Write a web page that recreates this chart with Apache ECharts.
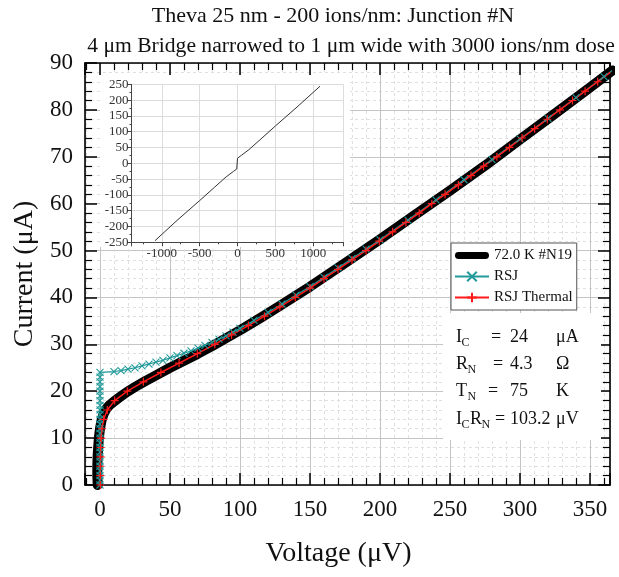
<!DOCTYPE html>
<html>
<head>
<meta charset="utf-8">
<script src="https://cdn.jsdelivr.net/npm/echarts@6/dist/echarts.min.js"></script>
<style>
  html, body { margin: 0; padding: 0; background: #fff; }
  #chart { width: 619px; height: 577px; }
</style>
</head>
<body>
<div id="chart"></div>
<script>
const FONT = '"Liberation Serif", "Times New Roman", serif';

// Measured I-V curve at 72.0 K, junction #N19 (voltage in µV, current in µA)
const measV = [-1.6, -1.9, -1.9, -1.7, -1.3, -0.8, 0, 1.2, 2.8, 4.6, 7, 10, 14, 19, 25, 32, 40, 50, 60, 70, 80, 90, 100, 115, 130, 150, 175, 200, 225, 250, 275, 300, 325, 350, 366];
const measI = [0, 2, 4, 6, 8, 10, 12, 13.9, 15.3, 16.3, 17.1, 17.8, 18.7, 19.8, 20.9, 22.1, 23.4, 25, 26.5, 28, 29.6, 31.3, 33, 35.7, 38.5, 42.3, 47.3, 52.4, 57.6, 62.8, 68.1, 73.7, 79.2, 84.8, 88.4];

// RSJ fit
const rsjV = [0, 0, 0, 0, 0, 0, 0, 0, 0, 0, 0, 0, 0, 0, 0, 0, 0, 0, 0, 0, 0, 0, 0, 0, 0,
  10, 15, 20, 25, 30, 35, 40, 45, 50, 55, 60, 65, 70, 75, 80, 85, 90, 95, 100,
  110, 120, 130, 140, 150, 160, 170, 180, 190, 200, 220, 240, 260, 280, 300, 320, 340, 360, 366];
const rsjI = [0, 1, 2, 3, 4, 5, 6, 7, 8, 9, 10, 11, 12, 13, 14, 15, 16, 17, 18, 19, 20, 21, 22, 23, 24,
  24.2, 24.4, 24.7, 25.0, 25.4, 25.8, 26.2, 26.6, 27.1, 27.6, 28.1, 28.6, 29.2, 29.8, 30.4, 31.1, 31.8, 32.6, 33.4,
  35.1, 36.8, 38.6, 40.5, 42.3, 44.3, 46.3, 48.3, 50.3, 52.3, 56.5, 60.8, 65.1, 69.4, 73.8, 78.2, 82.6, 87.1, 88.4];

// RSJ fit including thermal noise rounding
const thermV = [0.3, 0.3, 0.3, 0.4, 0.5, 0.8, 1.4, 2.6, 5.2, 10.5, 19.5, 31, 43.5, 56.5, 69.5, 82, 94, 106, 117.5, 128.5, 139.5, 150, 160, 170, 180, 190, 199.5, 209, 218.5, 228, 237, 246.5, 256, 265, 274, 283.5, 292.5, 301.5, 310.5, 319.5, 328.5, 337.5, 346.5, 355.5, 364.5];
const thermI = [0, 2, 4, 6, 8, 10, 12, 14, 16, 18, 20, 22, 24, 26, 28, 30, 32, 34, 36, 38, 40, 42, 44, 46, 48, 50, 52, 54, 56, 58, 60, 62, 64, 66, 68, 70, 72, 74, 76, 78, 80, 82, 84, 86, 88];

// Full bipolar sweep (inset)
const wideV = [-1090, -800, -500, -300, -150, -50, -10, 0, 0, 10, 50, 150, 300, 500, 800, 1090];
const wideI = [-245, -181, -118, -75, -43, -25, -18, -16, 16, 18, 25, 43, 75, 118, 181, 244];

const seriesNames = ['72.0 K #N19', 'RSJ', 'RSJ Thermal'];

// Fit parameters
const paramSymbols = [[['I', 'C']], [['R', 'N']], [['T', 'N']], [['I', 'C'], ['R', 'N']]];
const paramValues = ['24', '4.3', '75', '103.2'];
const paramUnits = ['μA', 'Ω', 'K', 'μV'];

const titleLines = ['Theva 25 nm - 200 ions/nm: Junction #N', '4 μm Bridge narrowed to 1 μm wide with 3000 ions/nm dose'];

const zip = (a, b) => a.map((v, i) => [v, b[i]]);

const CYAN = '#229a9a';
const RED = '#ff1a1a';
const PLUS = 'path://M5,0 L5,10 M0,5 L10,5';
const CROSS = 'path://M0,0 L10,10 M10,0 L0,10';
const PILL = 'path://M4.5,0 L40.5,0 A4.5,4.5 0 0 1 40.5,9 L4.5,9 A4.5,4.5 0 0 1 4.5,0 Z';

const X_MIN = -10.7, X_MAX = 364.3;
const PLOT = { left: 85, top: 63, width: 525, height: 422 };

const FRAME_LINE = { show: true, onZero: false, lineStyle: { color: '#000', width: 1.6 } };
const NO_LINE = { show: false, onZero: false };
const MAJOR_TICK = { show: true, length: 12, lineStyle: { color: '#000', width: 1.5 } };
const MINOR_TICK = { show: true, splitNumber: 5, length: 7, lineStyle: { color: '#000', width: 1.2 } };
const HIDDEN_TICK = { show: false };
const HIDDEN_MINOR = { show: false, splitNumber: 5 };

const xRange = { gridIndex: 0, type: 'value', min: X_MIN, max: X_MAX, splitNumber: 7, z: 0 };
const yRange = { gridIndex: 0, type: 'value', min: 0, max: 90, interval: 10, z: 0 };

// An axis placed on the opposite side and shifted across the plot gives ticks facing inwards
const tickAxis = (range, position, offset) => Object.assign({}, range, {
  position: position, offset: offset,
  axisLine: NO_LINE, axisTick: MAJOR_TICK, minorTick: MINOR_TICK,
  axisLabel: { show: false }, splitLine: { show: false }
});

const option = {
  animation: false,
  backgroundColor: '#fff',
  title: [
    { text: titleLines[0], left: 328, top: 0, textAlign: 'center',
      textStyle: { fontFamily: FONT, fontSize: 22, fontWeight: 'normal', color: '#111' } },
    { text: titleLines[1], left: 346, top: 30, textAlign: 'center',
      textStyle: { fontFamily: FONT, fontSize: 21.6, fontWeight: 'normal', color: '#111' } }
  ],
  grid: [
    Object.assign({ outerBoundsMode: 'none', containLabel: false }, PLOT),
    { left: 131.5, top: 84.3, width: 212, height: 158, outerBoundsMode: 'none', containLabel: false }
  ],
  xAxis: [
    Object.assign({}, xRange, {
      position: 'bottom',
      name: 'Voltage (μV)', nameLocation: 'middle', nameGap: 55,
      nameTextStyle: { fontFamily: FONT, fontSize: 28, color: '#111', padding: [0, 18, 0, 0] },
      axisLine: FRAME_LINE, axisTick: HIDDEN_TICK, minorTick: HIDDEN_MINOR,
      axisLabel: { show: true, margin: 13, fontFamily: FONT, fontSize: 23, color: '#111',
        formatter: v => (Math.abs(v % 50) < 1e-6 ? String(Math.round(v)) : '') },
      splitLine: { show: true, lineStyle: { color: '#c4c4c4', width: 1 } },
      minorSplitLine: { show: true, lineStyle: { color: '#e0e0e0', width: 1, type: [3, 3] } }
    }),
    Object.assign({}, xRange, {
      position: 'top', axisLine: FRAME_LINE, axisTick: HIDDEN_TICK, minorTick: HIDDEN_MINOR,
      axisLabel: { show: false }, splitLine: { show: false }
    }),
    tickAxis(xRange, 'top', -PLOT.height),
    tickAxis(xRange, 'bottom', -PLOT.height),
    {
      gridIndex: 1, type: 'value', min: -1400, max: 1400, splitNumber: 6, z: 4,
      axisLine: { show: true, onZero: false, lineStyle: { color: '#444', width: 1 } },
      axisTick: { show: true, length: 4, lineStyle: { color: '#444' } },
      minorTick: { show: true, splitNumber: 2, length: 2, lineStyle: { color: '#444' } },
      axisLabel: { show: true, margin: 5, fontFamily: FONT, fontSize: 13, color: '#333',
        formatter: v => (Math.abs(v % 500) < 1e-6 ? String(v) : '') },
      splitLine: { show: true, lineStyle: { color: '#dcdcdc', width: 1 } }
    }
  ],
  yAxis: [
    Object.assign({}, yRange, {
      position: 'left',
      name: 'Current (μA)', nameLocation: 'middle', nameGap: 36,
      nameTextStyle: { fontFamily: FONT, fontSize: 28, color: '#111' },
      axisLine: FRAME_LINE, axisTick: HIDDEN_TICK, minorTick: HIDDEN_MINOR,
      axisLabel: { show: true, margin: 12, fontFamily: FONT, fontSize: 23, color: '#111' },
      splitLine: { show: true, lineStyle: { color: '#c4c4c4', width: 1 } },
      minorSplitLine: { show: true, lineStyle: { color: '#e0e0e0', width: 1, type: [3, 3] } }
    }),
    Object.assign({}, yRange, {
      position: 'right', axisLine: FRAME_LINE, axisTick: HIDDEN_TICK, minorTick: HIDDEN_MINOR,
      axisLabel: { show: false }, splitLine: { show: false }
    }),
    tickAxis(yRange, 'right', -PLOT.width),
    tickAxis(yRange, 'left', -PLOT.width),
    {
      gridIndex: 1, type: 'value', min: -250, max: 250, interval: 50, z: 4,
      axisLine: { show: true, onZero: false, lineStyle: { color: '#444', width: 1 } },
      axisTick: { show: true, length: 4, lineStyle: { color: '#444' } },
      minorTick: { show: true, splitNumber: 2, length: 2, lineStyle: { color: '#444' } },
      axisLabel: { show: true, margin: 3, fontFamily: FONT, fontSize: 13, color: '#333' },
      splitLine: { show: true, lineStyle: { color: '#dcdcdc', width: 1 } }
    }
  ],
  legend: {
    orient: 'vertical', left: 451, top: 243, z: 6,
    itemWidth: 34, itemHeight: 12, itemGap: 6,
    padding: [5, 4, 5, 3],
    backgroundColor: '#fff', borderColor: '#555', borderWidth: 1,
    textStyle: { fontFamily: FONT, fontSize: 15, color: '#111' },
    data: [
      { name: seriesNames[0], icon: PILL, itemStyle: { color: '#000' } },
      { name: seriesNames[1] },
      { name: seriesNames[2] }
    ]
  },
  graphic: [
    { type: 'rect', z: 3, silent: true,
      shape: { x: 100, y: 75, width: 250, height: 172 }, style: { fill: '#fff' } },
    { type: 'rect', z: 6, silent: true,
      shape: { x: 443, y: 313, width: 158, height: 127 }, style: { fill: '#fff' } }
  ],
  series: [
    { name: seriesNames[0], type: 'line', xAxisIndex: 0, yAxisIndex: 0, z: 2,
      data: zip(measV, measI), showSymbol: false, symbol: 'none',
      lineStyle: { color: '#000', width: 10, cap: 'round', join: 'round' },
      itemStyle: { color: '#000' } },
    { name: seriesNames[1], type: 'line', xAxisIndex: 0, yAxisIndex: 0, z: 2,
      data: zip(rsjV, rsjI), symbol: CROSS, symbolSize: 7, showAllSymbol: true,
      lineStyle: { color: CYAN, width: 1.2 },
      itemStyle: { color: CYAN, borderColor: CYAN, borderWidth: 1.1 } },
    { name: seriesNames[2], type: 'line', xAxisIndex: 0, yAxisIndex: 0, z: 2,
      data: zip(thermV, thermI), symbol: PLUS, symbolSize: 8, showAllSymbol: true,
      lineStyle: { color: RED, width: 1.5 },
      itemStyle: { color: RED, borderColor: RED, borderWidth: 1.2 } },
    { name: 'sweep', type: 'line', xAxisIndex: 4, yAxisIndex: 4, z: 5,
      data: zip(wideV, wideI), symbol: 'none',
      lineStyle: { color: '#333', width: 1 } }
  ]
};

// Fit-parameter annotation: symbol with subscript, "=", value, unit
const rowY = [337, 364, 391, 419];
const eqX = [491, 493, 488, 495];
const annText = (text, x, y, size) => ({
  type: 'text', z: 7, silent: true, x: x, y: y,
  style: { text: text, fontFamily: FONT, fontSize: size, fill: '#111',
    textAlign: 'left', textVerticalAlign: 'middle' }
});
paramSymbols.forEach((parts, r) => {
  let x = 456;
  parts.forEach(([main, sub]) => {
    option.graphic.push(annText(main, x, rowY[r], 18));
    x += main === 'I' ? 5.5 : 11.5;
    option.graphic.push(annText(sub, x, rowY[r] + 6, 12));
    x += 8.5;
  });
  option.graphic.push(annText('=', eqX[r], rowY[r], 18));
  option.graphic.push(annText(paramValues[r], 510, rowY[r], 18));
  option.graphic.push(annText(paramUnits[r], 556, rowY[r], 18));
});

const chart = echarts.init(document.getElementById('chart'), null, { renderer: 'canvas' });
chart.setOption(option);
</script>
</body>
</html>
